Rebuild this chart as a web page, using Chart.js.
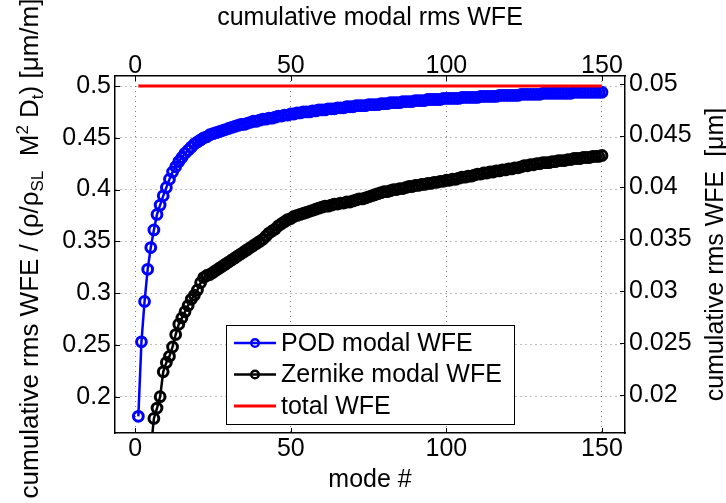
<!DOCTYPE html>
<html>
<head>
<meta charset="utf-8">
<title>cumulative modal rms WFE</title>
<script src="https://cdn.jsdelivr.net/npm/chart.js@4.4.1/dist/chart.umd.min.js"></script>
<style>
  html, body { margin: 0; padding: 0; background: #fff; }
  #wrap { width: 726px; height: 503px; }
</style>
</head>
<body>
<div id="wrap"><canvas id="chart" width="726" height="503"></canvas></div>
<script>
/* cumulative modal rms WFE — POD vs Zernike, plotyy style (MATLAB look) */

const FONT = '"Liberation Sans", Arial, Helvetica, sans-serif';
const FS = 25;

// mode numbers (x categories)
const modes = Array.from({length: 150}, (_, i) => i + 1);

// POD modal WFE, modes 1..150
const podWfe = [
  0.181,0.253,0.292,0.323,0.344,0.361,0.376,0.385,0.394,0.402,
  0.410,0.417,0.422,0.427,0.431,0.435,0.438,0.441,0.444,0.446,
  0.448,0.450,0.451,0.453,0.454,0.455,0.456,0.457,0.458,0.459,
  0.460,0.461,0.462,0.463,0.463,0.464,0.465,0.466,0.466,0.467,
  0.468,0.468,0.469,0.469,0.470,0.471,0.471,0.472,0.472,0.473,
  0.473,0.474,0.474,0.475,0.475,0.475,0.476,0.476,0.477,0.477,
  0.477,0.478,0.478,0.478,0.479,0.479,0.479,0.480,0.480,0.480,
  0.481,0.481,0.481,0.481,0.482,0.482,0.482,0.482,0.483,0.483,
  0.483,0.484,0.484,0.484,0.484,0.485,0.485,0.485,0.485,0.486,
  0.486,0.486,0.486,0.487,0.487,0.487,0.487,0.487,0.488,0.488,
  0.488,0.488,0.488,0.488,0.489,0.489,0.489,0.489,0.489,0.489,
  0.490,0.490,0.490,0.490,0.490,0.490,0.491,0.491,0.491,0.491,
  0.491,0.491,0.491,0.492,0.492,0.492,0.492,0.492,0.492,0.492,
  0.493,0.493,0.493,0.493,0.493,0.493,0.493,0.493,0.493,0.493,
  0.494,0.494,0.494,0.494,0.494,0.494,0.494,0.494,0.494,0.494
];

// Zernike modal WFE, modes 1..150 (first modes fall below the axis)
const zernikeWfe = [
  null,null,null,null,0.149,0.179,0.189,0.200,0.224,0.233,
  0.239,0.248,0.260,0.270,0.276,0.282,0.288,0.294,0.298,0.303,
  0.310,0.315,0.317,0.318,0.320,0.322,0.324,0.326,0.328,0.330,
  0.332,0.334,0.336,0.338,0.340,0.342,0.344,0.346,0.348,0.350,
  0.352,0.355,0.358,0.360,0.362,0.365,0.367,0.369,0.371,0.372,
  0.374,0.375,0.376,0.377,0.378,0.379,0.380,0.381,0.382,0.383,
  0.384,0.384,0.385,0.386,0.386,0.387,0.387,0.388,0.388,0.389,
  0.390,0.391,0.391,0.392,0.393,0.394,0.395,0.396,0.397,0.398,
  0.398,0.399,0.400,0.400,0.401,0.401,0.402,0.403,0.403,0.404,
  0.404,0.405,0.405,0.406,0.406,0.407,0.407,0.408,0.408,0.409,
  0.409,0.410,0.410,0.411,0.412,0.412,0.413,0.413,0.414,0.415,
  0.415,0.416,0.416,0.417,0.417,0.418,0.418,0.419,0.419,0.420,
  0.420,0.421,0.421,0.422,0.423,0.423,0.424,0.424,0.425,0.425,
  0.426,0.426,0.426,0.427,0.427,0.428,0.428,0.428,0.429,0.429,
  0.430,0.430,0.430,0.431,0.431,0.431,0.432,0.432,0.432,0.433
];

// total WFE (flat line)
const totalModes = [1, 150];
const totalWfe = [0.5, 0.5];

const seriesNames = ["POD modal WFE", "Zernike modal WFE", "total WFE"];
const seriesColors = ["#0000ff", "#000000", "#ff0000"];

const xTicks = [0, 50, 100, 150];
const leftTicks = [0.2, 0.25, 0.3, 0.35, 0.4, 0.45, 0.5];
const leftTickLabels = ["0.2", "0.25", "0.3", "0.35", "0.4", "0.45", "0.5"];
const rightTicks = [0.02, 0.025, 0.03, 0.035, 0.04, 0.045, 0.05];
const rightTickLabels = ["0.02", "0.025", "0.03", "0.035", "0.04", "0.045", "0.05"];

const xRange = [-6.5, 157.4];
const leftRange = [0.1649, 0.5097];
const rightRange = [0.01635, 0.05074];

const topTitle = "cumulative modal rms WFE";
const xTitle = "mode #";
const rightTitle = "cumulative rms WFE  [\u03bcm]";
// left label pieces: shift 0 = normal, 1 = subscript, -1 = superscript
const leftTitleParts = [
  ["cumulative rms WFE / (\u03c1/\u03c1", 0],
  ["SL", 1],
  ["  M", 0],
  ["2", -1],
  [" D", 0],
  ["t", 1],
  [") [\u03bcm/m]", 0]
];

function pts(xs, ys){ return xs.map((x, i) => ({x, y: ys[i]})); }

const tickFont = {family: FONT, size: FS, lineHeight: 1};
const gridColor = "rgba(0,0,0,0.5)";

// white page + titles
const decorPlugin = {
  id: "decor",
  beforeDraw(chart){
    const c = chart.ctx;
    c.save();
    c.fillStyle = "#fff";
    c.fillRect(0, 0, chart.width, chart.height);
    c.restore();
  },
  afterDraw(chart){
    const c = chart.ctx;
    const a = chart.chartArea;
    const cx = (a.left + a.right) / 2;
    const cy = (a.top + a.bottom) / 2;
    c.save();
    c.fillStyle = "#000";
    c.font = `${FS}px ${FONT}`;
    c.textAlign = "center";
    c.textBaseline = "alphabetic";
    c.fillText(topTitle, cx, 25);
    c.fillText(xTitle, cx, 487);

    // right y label, reads bottom -> top
    c.save();
    c.translate(723, cy);
    c.rotate(-Math.PI / 2);
    c.fillText(rightTitle, 0, 0);
    c.restore();

    // left y label with sub/superscripts
    c.save();
    c.translate(38, cy - 6);
    c.rotate(-Math.PI / 2);
    c.textAlign = "left";
    const fontFor = s => s === 0 ? `26px ${FONT}` : `17px ${FONT}`;
    let total = 0;
    leftTitleParts.forEach(([t, s]) => { c.font = fontFor(s); total += c.measureText(t).width; });
    let x = -total / 2;
    leftTitleParts.forEach(([t, s]) => {
      c.font = fontFor(s);
      const dy = s === 1 ? 5 : (s === -1 ? -10 : 0);
      c.fillText(t, x, dy);
      x += c.measureText(t).width;
    });
    c.restore();

    // inward tick marks (MATLAB style)
    c.strokeStyle = "#000";
    c.lineWidth = 1;
    const tl = 5;
    const xs = chart.scales.x, ys = chart.scales.y, ys2 = chart.scales.y2;
    c.beginPath();
    xTicks.forEach(v => {
      const p = Math.round(xs.getPixelForValue(v)) + 0.5;
      c.moveTo(p, a.bottom); c.lineTo(p, a.bottom - tl);
      c.moveTo(p, a.top); c.lineTo(p, a.top + tl);
    });
    leftTicks.forEach(v => {
      const p = Math.round(ys.getPixelForValue(v)) + 0.5;
      c.moveTo(a.left, p); c.lineTo(a.left + tl, p);
    });
    rightTicks.forEach(v => {
      const p = Math.round(ys2.getPixelForValue(v)) + 0.5;
      c.moveTo(a.right, p); c.lineTo(a.right - tl, p);
    });
    c.stroke();

    // legend box
    const lx = 226, ly = 325, lw = 288, lh = 99;
    c.fillStyle = "#fff";
    c.fillRect(lx, ly, lw, lh);
    c.strokeStyle = "#000";
    c.lineWidth = 1;
    c.strokeRect(lx + 0.5, ly + 0.5, lw, lh);
    const rowY = [ly + 18, ly + 49.5, ly + 81];
    c.font = `${FS}px ${FONT}`;
    c.textAlign = "left";
    c.textBaseline = "middle";
    seriesNames.forEach((name, i) => {
      const ds = chart.data.datasets[i];
      const y = rowY[i];
      c.strokeStyle = ds.borderColor;
      c.lineWidth = ds.borderWidth;
      c.beginPath();
      c.moveTo(lx + 8, y); c.lineTo(lx + 50, y);
      c.stroke();
      if (ds.pointRadius > 0){
        c.lineWidth = 2.4;
        c.beginPath();
        c.arc(lx + 29, y, 3.8, 0, Math.PI * 2);
        c.stroke();
      }
      c.fillStyle = "#000";
      c.fillText(name, lx + 55, y + 1);
    });
    c.restore();
  }
};

new Chart(document.getElementById("chart"), {
  type: "line",
  data: {
    datasets: [
      {
        label: seriesNames[0],
        data: pts(modes, podWfe),
        borderColor: seriesColors[0],
        borderWidth: 2.5,
        pointRadius: 4.9,
        pointBorderWidth: 3,
        pointBorderColor: seriesColors[0],
        pointBackgroundColor: "rgba(0,0,0,0)",
        tension: 0,
        yAxisID: "y",
        order: 2
      },
      {
        label: seriesNames[1],
        data: pts(modes, zernikeWfe),
        borderColor: seriesColors[1],
        borderWidth: 2.5,
        pointRadius: 4.9,
        pointBorderWidth: 3,
        pointBorderColor: seriesColors[1],
        pointBackgroundColor: "rgba(0,0,0,0)",
        tension: 0,
        spanGaps: false,
        yAxisID: "y",
        order: 1
      },
      {
        label: seriesNames[2],
        data: pts(totalModes, totalWfe),
        borderColor: seriesColors[2],
        borderWidth: 3,
        pointRadius: 0,
        tension: 0,
        yAxisID: "y",
        order: 0
      }
    ]
  },
  options: {
    responsive: false,
    animation: false,
    events: [],
    layout: { padding: 0 },
    plugins: {
      legend: { display: false },
      tooltip: { enabled: false },
      title: { display: false }
    },
    scales: {
      x: {
        type: "linear",
        position: "bottom",
        min: xRange[0], max: xRange[1],
        bounds: "data",
        afterBuildTicks: s => { s.ticks = xTicks.map(v => ({value: v})); },
        afterFit: s => { s.height = 70; },
        ticks: { color: "#000", font: tickFont, padding: 4, maxRotation: 0, callback: v => String(v) },
        grid: { display: true, drawOnChartArea: true, drawTicks: false, color: gridColor, lineWidth: 1 },
        border: { display: true, color: "#000", width: 1.5, dash: [1, 4] }
      },
      x2: {
        type: "linear",
        position: "top",
        min: xRange[0], max: xRange[1],
        bounds: "data",
        afterBuildTicks: s => { s.ticks = xTicks.map(v => ({value: v})); },
        afterFit: s => { s.height = 76; },
        ticks: { color: "#000", font: tickFont, padding: -3, maxRotation: 0, callback: v => String(v) },
        grid: { display: true, drawOnChartArea: false, drawTicks: false },
        border: { display: true, color: "#000", width: 1.5 }
      },
      y: {
        type: "linear",
        position: "left",
        min: leftRange[0], max: leftRange[1],
        bounds: "data",
        afterBuildTicks: s => { s.ticks = leftTicks.map(v => ({value: v})); },
        afterFit: s => { s.width = 115; },
        ticks: { color: "#000", font: tickFont, padding: 4, callback: (v, i) => leftTickLabels[i] },
        grid: { display: true, drawOnChartArea: true, drawTicks: false, color: gridColor, lineWidth: 1 },
        border: { display: true, color: "#000", width: 1.5, dash: [1, 4] }
      },
      y2: {
        type: "linear",
        position: "right",
        min: rightRange[0], max: rightRange[1],
        bounds: "data",
        afterBuildTicks: s => { s.ticks = rightTicks.map(v => ({value: v})); },
        afterFit: s => { s.width = 101; },
        ticks: { color: "#000", font: tickFont, padding: 4, callback: (v, i) => rightTickLabels[i] },
        grid: { display: true, drawOnChartArea: false, drawTicks: false },
        border: { display: true, color: "#000", width: 1.5 }
      }
    }
  },
  plugins: [decorPlugin]
});
</script>
</body>
</html>
